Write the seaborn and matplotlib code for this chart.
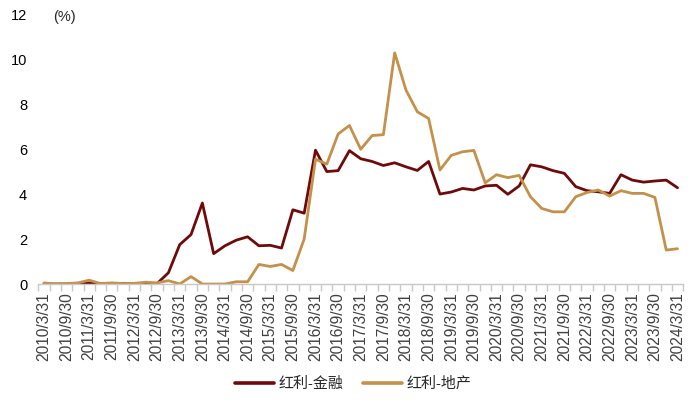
import pandas as pd
import numpy as np
import matplotlib
matplotlib.use("Agg")
import matplotlib.pyplot as plt
import seaborn as sns

# 季度末日期 (2010Q1 ~ 2024Q1)
quarters = pd.date_range("2010-03-31", periods=57, freq="QE")
date_labels = [f"{d.year}/{d.month}/{d.day}" for d in quarters]

finance = [0.0, 0.0, 0.0, 0.02, 0.05, 0.02, 0.02, 0.02, 0.02, 0.03, 0.02,
           0.5, 1.75, 2.2, 3.6, 1.35, 1.7, 1.95, 2.1, 1.7, 1.72, 1.6,
           3.3, 3.15, 5.95, 5.0, 5.04, 5.93, 5.57, 5.45, 5.27, 5.39, 5.21,
           5.05, 5.45, 4.0, 4.09, 4.25, 4.18, 4.36, 4.39, 3.99, 4.36, 5.3,
           5.21, 5.04, 4.92, 4.33, 4.15, 4.1, 4.03, 4.86, 4.62, 4.53, 4.58,
           4.62, 4.28]
realestate = [0.05, 0.0, 0.02, 0.05, 0.17, 0.02, 0.05, 0.02, 0.03, 0.08, 0.05,
              0.15, 0.0, 0.33, 0.0, 0.0, 0.0, 0.1, 0.1, 0.87, 0.78, 0.87,
              0.6, 2.0, 5.55, 5.33, 6.67, 7.05, 5.99, 6.6, 6.64, 10.28, 8.62,
              7.66, 7.36, 5.07, 5.72, 5.88, 5.94, 4.5, 4.86, 4.73, 4.83, 3.88,
              3.36, 3.21, 3.21, 3.88, 4.07, 4.18, 3.91, 4.15, 4.03, 4.03, 3.85,
              1.51, 1.57]
series_names = ["红利-金融", "红利-地产"]
colors = ["#700A0A", "#C4904A"]

df = pd.DataFrame({
    "idx": list(range(len(date_labels))) * 2,
    "value": finance + realestate,
    "series": [series_names[0]] * len(finance) + [series_names[1]] * len(realestate),
})

sns.set_theme(style="white")
plt.rcParams["font.family"] = ["Liberation Sans", "Noto Sans CJK SC", "DejaVu Sans"]

fig = plt.figure(figsize=(7, 4.04), dpi=100)
ax = fig.add_axes([0.0547, 0.297, 0.9213, 0.668])

sns.lineplot(data=df, x="idx", y="value", hue="series", palette=colors,
             linewidth=2.0, ax=ax, legend=False)

ax.set_xlim(-0.5, len(date_labels) - 0.5)
ax.set_ylim(0, 12)
ax.set_yticks(np.arange(0, 13, 2))
ax.tick_params(axis="y", length=0, labelsize=10.5, colors="black", pad=8)

ax.set_xticks(range(0, len(date_labels), 2))
ax.set_xticklabels(date_labels[::2], rotation=90, fontsize=11.2, color="#404040")
ax.set_xticks(np.arange(-0.5, len(date_labels), 1), minor=True)
ax.tick_params(axis="x", which="major", length=0, pad=6)
ax.tick_params(axis="x", which="minor", length=5, color="#C8C8C8", width=1, bottom=True)

for s in ["top", "right", "left"]:
    ax.spines[s].set_visible(False)
ax.spines["bottom"].set_color("#C8C8C8")
ax.spines["bottom"].set_linewidth(1)
ax.set_xlabel("")
ax.set_ylabel("")

fig.text(0.076, 0.958, "(%)", fontsize=10.5, ha="left", va="center")

handles = [plt.Line2D([0], [0], color=c, lw=2.6) for c in colors]
fig.legend(handles, series_names, loc="center", bbox_to_anchor=(0.505, 0.05),
           ncol=2, frameon=False, fontsize=10.8, handlelength=2.6,
           handletextpad=0.3, columnspacing=1.3)

fig.savefig("out.png", dpi=100)
